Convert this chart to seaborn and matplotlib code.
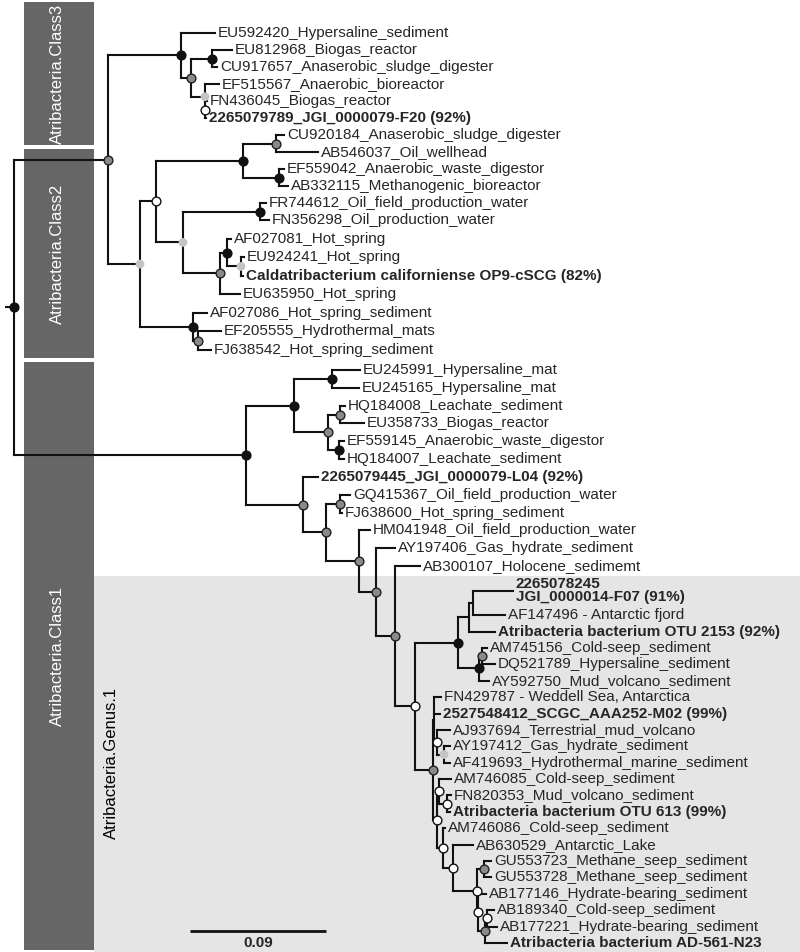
import numpy as np
import pandas as pd
import matplotlib
matplotlib.use("Agg")
import matplotlib.pyplot as plt
import seaborn as sns
from matplotlib.patches import Rectangle

# ---- tree data (branch depths in substitutions/site from the root) ----
leaf_names = [
    "EU592420_Hypersaline_sediment", "EU812968_Biogas_reactor", "CU917657_Anaserobic_sludge_digester",
    "EF515567_Anaerobic_bioreactor", "FN436045_Biogas_reactor", "2265079789_JGI_0000079-F20 (92%)",
    "CU920184_Anaserobic_sludge_digester", "AB546037_Oil_wellhead", "EF559042_Anaerobic_waste_digestor",
    "AB332115_Methanogenic_bioreactor", "FR744612_Oil_field_production_water", "FN356298_Oil_production_water",
    "AF027081_Hot_spring", "EU924241_Hot_spring", "Caldatribacterium californiense OP9-cSCG (82%)",
    "EU635950_Hot_spring", "AF027086_Hot_spring_sediment", "EF205555_Hydrothermal_mats",
    "FJ638542_Hot_spring_sediment", "EU245991_Hypersaline_mat", "EU245165_Hypersaline_mat",
    "HQ184008_Leachate_sediment", "EU358733_Biogas_reactor", "EF559145_Anaerobic_waste_digestor",
    "HQ184007_Leachate_sediment", "2265079445_JGI_0000079-L04 (92%)", "GQ415367_Oil_field_production_water",
    "FJ638600_Hot_spring_sediment", "HM041948_Oil_field_production_water", "AY197406_Gas_hydrate_sediment",
    "AB300107_Holocene_sedimemt", "2265078245\nJGI_0000014-F07 (91%)", "AF147496 - Antarctic fjord",
    "Atribacteria bacterium OTU 2153 (92%)", "AM745156_Cold-seep_sediment", "DQ521789_Hypersaline_sediment",
    "AY592750_Mud_volcano_sediment", "FN429787 - Weddell Sea, Antarctica", "2527548412_SCGC_AAA252-M02 (99%)",
    "AJ937694_Terrestrial_mud_volcano", "AY197412_Gas_hydrate_sediment", "AF419693_Hydrothermal_marine_sediment",
    "AM746085_Cold-seep_sediment", "FN820353_Mud_volcano_sediment", "Atribacteria bacterium OTU 613 (99%)",
    "AM746086_Cold-seep_sediment", "AB630529_Antarctic_Lake", "GU553723_Methane_seep_sediment",
    "GU553728_Methane_seep_sediment", "AB177146_Hydrate-bearing_sediment", "AB189340_Cold-seep_sediment",
    "AB177221_Hydrate-bearing_sediment", "Atribacteria bacterium AD-561-N23",
]
leaf_bold = [5, 14, 25, 31, 33, 38, 44, 52]
leaf_parent = [
    "C3", "C3b", "C3b", "C3c", "C3d", "C3d",
    "C2c", "C2c", "C2d", "C2d", "C2f", "C2f",
    "C2h", "C2i", "C2i", "C2g", "C2j", "C2k", "C2k",
    "C1b", "C1b", "C1d", "C1d", "C1e", "C1e",
    "C1f", "C1h", "C1h", "C1i", "C1j", "C1k",
    "G1b", "G1b", "G1a", "G1d", "G1d", "G1c",
    "G2a", "G2a", "G2b", "G2c", "G2c", "G2e", "G2f", "G2f",
    "G2g", "G2h", "G2j", "G2j", "G2k", "G2m", "G2m", "G2l",
]
leaf_depth = [
    0.1330, 0.1443, 0.1343, 0.1357, 0.1277, 0.1271,
    0.1787, 0.2012, 0.1787, 0.1813, 0.1668, 0.1688,
    0.1436, 0.1522, 0.1515, 0.1496, 0.1277, 0.1370, 0.1304,
    0.2290, 0.2283, 0.2190, 0.2316, 0.2184, 0.2184,
    0.2012, 0.2224, 0.2171, 0.2356, 0.2521, 0.2687,
    0.3302, 0.3249, 0.3183, 0.3130, 0.3183, 0.3143,
    0.2826, 0.2819, 0.2885, 0.2885, 0.2885, 0.2892, 0.2892, 0.2885,
    0.2852, 0.3037, 0.3157, 0.3157, 0.3124, 0.3176, 0.3196, 0.3263,
]

node_ids = ["root", "A", "C3", "C3a", "C3b", "C3c", "C3d",
            "C2", "C2a", "C2b", "C2c", "C2d", "C2e", "C2f", "C2g", "C2h", "C2i", "C2j", "C2k",
            "C1", "C1a", "C1b", "C1c", "C1d", "C1e", "C1f", "C1g", "C1h", "C1i", "C1j", "C1k",
            "G", "G1", "G1a", "G1b", "G1c", "G1d",
            "G2", "G2a", "G2b", "G2c", "G2d", "G2e", "G2f", "G2g", "G2h", "G2i", "G2j", "G2k", "G2l", "G2m"]
node_parent = [None, "root", "A", "C3", "C3a", "C3a", "C3c",
               "A", "C2", "C2a", "C2b", "C2b", "C2a", "C2e", "C2e", "C2g", "C2h", "C2", "C2j",
               "root", "C1", "C1a", "C1a", "C1c", "C1c", "C1", "C1f", "C1g", "C1g", "C1i", "C1j",
               "C1k", "G", "G1", "G1a", "G1", "G1c",
               "G", "G2", "G2a", "G2b", "G2", "G2d", "G2e", "G2d", "G2g", "G2h", "G2i", "G2i", "G2k", "G2l"]
node_depth = [0.0, 0.0622, 0.1105, 0.1171, 0.1310, 0.1264, 0.1267,
              0.0834, 0.0940, 0.1515, 0.1734, 0.1754, 0.1118, 0.1628, 0.1363, 0.1410, 0.1502, 0.1185, 0.1218,
              0.1535, 0.1853, 0.2104, 0.2078, 0.2157, 0.2151, 0.1913, 0.2065, 0.2157, 0.2283, 0.2396, 0.2521,
              0.2654, 0.2938, 0.3011, 0.3037, 0.3077, 0.3097,
              0.2773, 0.2779, 0.2799, 0.2846, 0.2799, 0.2812, 0.2865, 0.2839, 0.2905, 0.3064, 0.3110, 0.3071,
              0.3117, 0.3130]
node_support = ["black", "gray", "black", "gray", "black", "light", "white",
                "light", "white", "black", "gray", "black", "light", "black", "gray", "black", "light", "black", "gray",
                "black", "black", "black", "gray", "gray", "black", "gray", "gray", "gray", "gray", "gray", "gray",
                "white", "black", None, None, "black", "gray",
                "gray", None, "white", "light", "white", "white", "white", "white", "white", "white", "gray",
                "white", "gray", "white"]

class_names = ["Atribacteria.Class3", "Atribacteria.Class2", "Atribacteria.Class1"]
genus_name = "Atribacteria.Genus.1"
scale_value = 0.09

# ---- layout ----
W, H = 800, 952
PX_PER_UNIT = 136 / scale_value
ROOT_X = 14
ROW_ANCHOR = [0, 11, 18, 19, 30, 53]
PX_ANCHOR = [33, 220, 350, 370, 566, 943]
FS = 11


def to_px(d):
    return ROOT_X + np.asarray(d) * PX_PER_UNIT


rows, r = [], 0
for name in leaf_names:
    n_lines = name.count("\n") + 1
    rows.append(r + (n_lines - 1) / 2)
    r += n_lines
leaf_y = np.interp(rows, ROW_ANCHOR, PX_ANCHOR)
leaf_x = to_px(leaf_depth)
node_x = dict(zip(node_ids, to_px(node_depth)))

children = {n: [] for n in node_ids}
for n, p in zip(node_ids, node_parent):
    if p is not None:
        children[p].append(("node", n))
for i, p in enumerate(leaf_parent):
    children[p].append(("leaf", i))

node_y = {}


def get_y(kind, key):
    if kind == "leaf":
        return leaf_y[key]
    if key not in node_y:
        ys = [get_y(k, c) for k, c in children[key]]
        node_y[key] = (min(ys) + max(ys)) / 2
    return node_y[key]


get_y("node", "root")


def get_x(kind, key):
    return leaf_x[key] if kind == "leaf" else node_x[key]


sns.set_style("white")
plt.rcParams["font.family"] = ["Liberation Sans", "DejaVu Sans"]

fig = plt.figure(figsize=(W / 100, H / 100), dpi=100)
ax = fig.add_axes([0, 0, 1, 1])

# background boxes
ax.add_patch(Rectangle((94, 576), W - 94, H - 576, color="#e5e5e5", zorder=0, lw=0))
bars = [(2, 145), (149, 358), (362, 950)]
for (y0, y1), label in zip(bars, class_names):
    ax.add_patch(Rectangle((24, y0), 70, y1 - y0, color="#666666", zorder=1, lw=0))
    ax.text(57, (y0 + y1) / 2, label, rotation=90, color="white", fontsize=12,
            ha="center", va="center", zorder=5)
ax.text(111, 763, genus_name, rotation=90, color="black", fontsize=12,
        ha="center", va="center", zorder=5)

# branches
hx0, hx1, hy, vx, vy0, vy1 = [], [], [], [], [], []
for n in node_ids:
    ys = []
    for k, c in children[n]:
        cy = get_y(k, c)
        ys.append(cy)
        hx0.append(node_x[n]); hx1.append(get_x(k, c)); hy.append(cy)
    vx.append(node_x[n]); vy0.append(min(ys)); vy1.append(max(ys))
ax.hlines(hy, hx0, hx1, color="#111111", lw=1.5, zorder=2, capstyle="projecting")
ax.vlines(vx, vy0, vy1, color="#111111", lw=1.5, zorder=2, capstyle="projecting")
ax.hlines(node_y["root"], 5, ROOT_X, color="#111111", lw=1.5, zorder=2)

# support markers
nodes = pd.DataFrame({"x": [node_x[n] for n in node_ids],
                      "y": [node_y[n] for n in node_ids],
                      "support": node_support})
styles = {"black": ("#111111", "#111111"), "gray": ("#8a8a8a", "#222222"),
          "light": ("#c4c4c4", "none"), "white": ("white", "#111111")}
for sup, (face, edge) in styles.items():
    sub = nodes[nodes["support"] == sup]
    sns.scatterplot(data=sub, x="x", y="y", color=face, edgecolor=edge, s=40,
                    linewidth=1.0, zorder=4, ax=ax, legend=False)

# tip labels
for i, name in enumerate(leaf_names):
    ax.text(leaf_x[i] + 3, leaf_y[i], name, fontsize=FS, va="center", ha="left",
            fontweight="bold" if i in leaf_bold else "normal", linespacing=0.95, zorder=5)

# scale bar
ax.hlines(931, 190, 190 + scale_value * PX_PER_UNIT, color="#111111", lw=2)
ax.text(190 + scale_value * PX_PER_UNIT / 2, 943, f"{scale_value:.2f}", fontsize=11,
        fontweight="bold", ha="center", va="center")

ax.set_xlim(0, W)
ax.set_ylim(H, 0)
ax.axis("off")
fig.savefig("out.png", dpi=100, facecolor="white")
